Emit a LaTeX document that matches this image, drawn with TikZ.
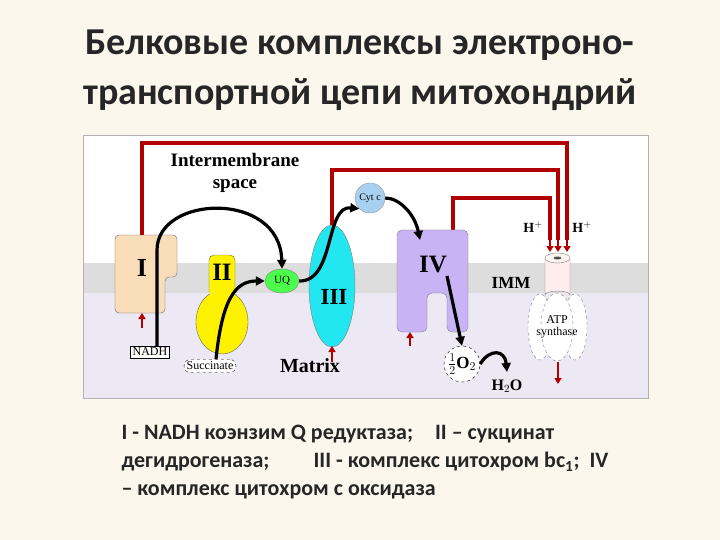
\documentclass[tikz,border=0pt]{standalone}
\usepackage{fontspec}
\setmainfont{Carlito}
\newfontfamily\tnr{Liberation Serif}
\usetikzlibrary{arrows.meta,shapes.geometric}
\definecolor{slide}{HTML}{FBF7EC}
\definecolor{peach}{HTML}{F8DDB8}
\definecolor{lav}{HTML}{ECE8F4}
\definecolor{band}{HTML}{DDDDDD}
\definecolor{purp}{HTML}{C8B4F4}
\definecolor{cyanc}{HTML}{22E6F0}
\definecolor{cytc}{HTML}{A8D0F0}
\definecolor{dred}{HTML}{B00000}
\tikzset{
 redline/.style={draw=dred,line width=4.5pt},
 redtip/.style={-{Triangle[length=6pt,width=7pt]},draw=dred,line width=2pt},
 blk/.style={-{Triangle[length=9pt,width=9pt]},line width=3.2pt},
 lbl/.style={font=\tnr\bfseries},
}
\begin{document}
\begin{tikzpicture}[x=1pt,y=-1pt]
\useasboundingbox (0,0) rectangle (720,540);
\fill[slide] (0,0) rectangle (720,540);
\node[text=black!85,align=center,font=\fontsize{38}{50}\selectfont\bfseries] (title) at (360,70) {Белковые комплексы электроно-\\транспортной цепи митохондрий};
% diagram background
\fill[white] (83,135) rectangle (648,263);
\fill[band] (83,263) rectangle (648,293);
\fill[lav] (83,293) rectangle (648,398);
\draw[black!30] (83,135) rectangle (648,398);
% red proton lines
\draw[redline] (142,237) -- (142,143) -- (567,143) -- (567,240);
\draw[redline] (332,226) -- (332,170) -- (558,170) -- (558,240);
\draw[redline] (453,232) -- (453,198) -- (550,198) -- (550,240);
\coordinate (t1) at (567,240); \coordinate (t2) at (558,240); \coordinate (t3) at (550,240);
\draw[redtip] (t1) -- (567,252);
\draw[redtip] (t2) -- (558,252);
\draw[redtip] (t3) -- (550,252);
\node[lbl,font=\tnr\bfseries\fontsize{14}{14}\selectfont] (h1) at (533,227) {H$^+$};
\node[lbl,font=\tnr\bfseries\fontsize{14}{14}\selectfont] (h2) at (582,227) {H$^+$};
% Complex I
\draw[fill=peach,draw=black!60,rounded corners=4pt] (115,235) -- (177,235) -- (177,277) -- (165,277) -- (165,313) -- (115,313) -- cycle;
\node[lbl,font=\tnr\bfseries\fontsize{26}{26}\selectfont] (c1) at (142,268) {I};
% Complex II
\draw[fill=yellow,draw=black!60] (222,322) ellipse (26 and 32);
\draw[fill=yellow,draw=black!60,rounded corners=5pt] (209,292) -- (209,255) -- (235,255) -- (235,292);
\fill[yellow] (210,285) rectangle (234,300);
\node[lbl,font=\tnr\bfseries\fontsize{25}{25}\selectfont] (c2) at (222,272) {II};
% Complex III
\node[ellipse,fill=cyanc,draw=black!50,minimum width=46,minimum height=122,inner sep=0] (c3) at (332,286) {};
\node[lbl,font=\tnr\bfseries\fontsize{23}{23}\selectfont] (c3l) at (334,297) {III};
% UQ
\node[ellipse,fill=green!70,draw=black!50,minimum width=34,minimum height=24,inner sep=0,font=\tnr\fontsize{11}{11}\selectfont] (uq) at (282,281) {UQ};
% Cyt c
\node[circle,fill=cytc,draw=black!40,minimum size=30,inner sep=0,font=\tnr\fontsize{10}{10}\selectfont] (cyt) at (370,198) {Cyt c};
% Complex IV
\draw[fill=purp,draw=black!50,rounded corners=5pt] (397,230) -- (468,230) -- (468,332) -- (447,332) -- (447,293) -- (427,293) -- (427,332) -- (397,332) -- cycle;
\node[lbl,font=\tnr\bfseries\fontsize{25}{25}\selectfont] (c4) at (433,265) {IV};
\node[lbl,font=\tnr\bfseries\fontsize{17}{17}\selectfont] (imm) at (511,283) {IMM};
% ATP synthase
\draw[fill=white,draw=black!50,dashed] (540,327) ellipse (12 and 33);
\draw[fill=white,draw=black!50,dashed] (575,327) ellipse (12 and 33);
\draw[fill=white,draw=black!50,dashed] (557,327) ellipse (16 and 34);
\draw[fill=pink!30,draw=black!50] (545,258) -- (545,295) arc (180:360:12.5 and 4) -- (570,258);
\draw[fill=pink!15,draw=black!50] (557.5,258) ellipse (12.5 and 5);
\fill[black!70] (557.5,258) ellipse (4 and 1.5);
\node[font=\tnr\fontsize{12}{12}\selectfont,align=center] (atp) at (557,327) {ATP\\synthase};
% small red arrows
\coordinate (r1) at (142,328); \draw[redtip,line width=1.5pt] (r1) -- (142,313);
\coordinate (r3) at (332,362); \draw[redtip,line width=1.5pt] (r3) -- (332,346);
\coordinate (r4) at (410,346); \draw[redtip,line width=1.5pt] (r4) -- (410,332);
\coordinate (r5) at (558,362); \draw[redtip] (r5) -- (558,384);
% NADH, succinate, O2
\node[draw,fill=white,inner sep=2pt,font=\tnr\fontsize{12}{12}\selectfont] (nadh) at (150,352) {NADH};
\node[draw,dashed,fill=white,rounded corners=6pt,inner sep=2.5pt,font=\tnr\fontsize{12}{12}\selectfont] (succ) at (210,366) {Succinate};
\node[lbl,font=\tnr\bfseries\fontsize{20}{20}\selectfont] (matrix) at (310,366) {Matrix};
\node[circle,draw,dashed,fill=white,minimum size=36,inner sep=0,font=\tnr\bfseries\fontsize{17}{17}\selectfont] (o2) at (462,364) {$\frac{1}{2}$O$_2$};
\node[lbl,font=\tnr\bfseries\fontsize{16}{16}\selectfont] (h2o) at (507,386) {H$_2$O};
\node[lbl,font=\tnr\bfseries\fontsize{19}{22}\selectfont,align=center] (ims) at (235,173) {Intermembrane\\space};
% black arrows
\draw[blk] (nadh.north) ++(7,0) -- (157,250) .. controls (157,195) and (280,190) .. (uq.north);
\draw[blk] (succ.north) ++(6,0) .. controls (222,300) and (235,281) .. (uq.west);
\draw[blk] (uq.east) .. controls (335,282) and (325,205) .. (cyt.south west);
\draw[blk] (cyt.east) .. controls (400,198) and (415,215) .. (420,240);
\draw[blk] (447,276) -- (o2.north);
\draw[blk] (o2.east) .. controls (490,348) and (505,350) .. (507,372);
% caption
\node[anchor=north west,align=left,font=\fontsize{22}{28}\selectfont\bfseries,text=black!85] (cap) at (118,422) {I - NADH коэнзим Q редуктаза;\quad II – сукцинат\\дегидрогеназа;\qquad III - комплекс цитохром bc\textsubscript{1};\ \ IV\\– комплекс цитохром с оксидаза};
\end{tikzpicture}
\end{document}
